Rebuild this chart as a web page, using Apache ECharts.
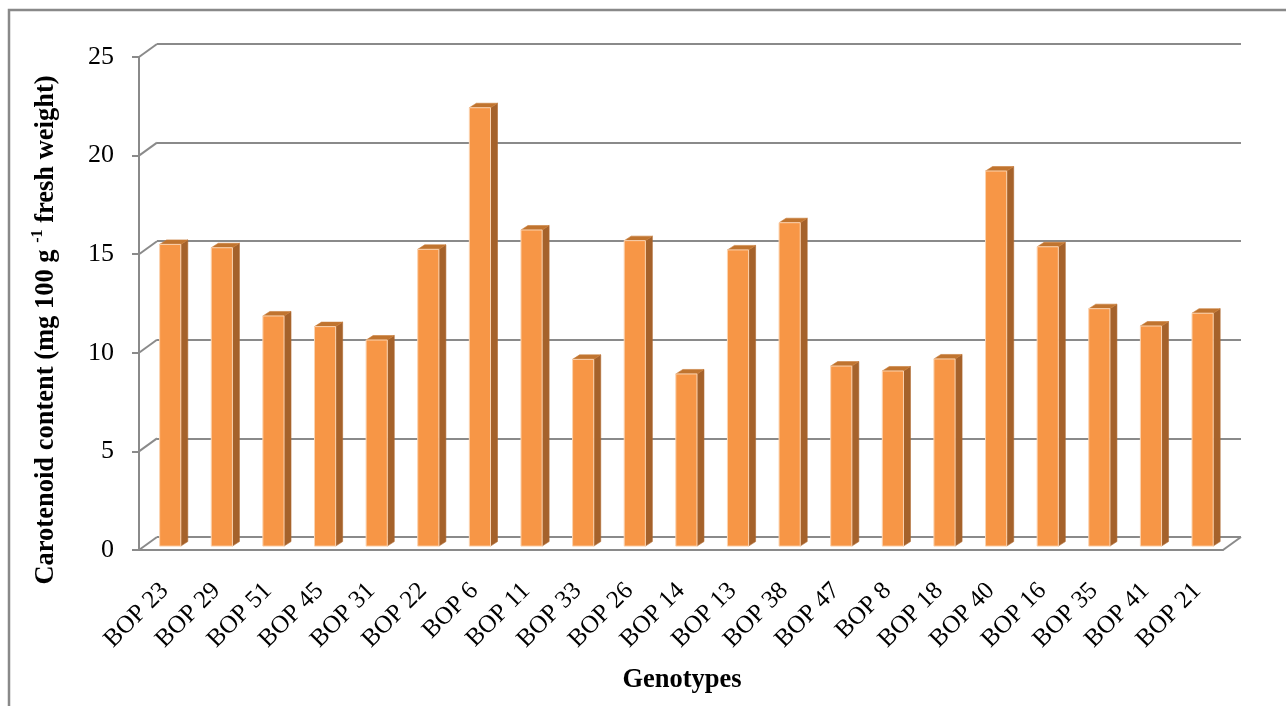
<!DOCTYPE html>
<html>
<head>
<meta charset="utf-8">
<title>Carotenoid content by genotype</title>
<script src="https://cdn.jsdelivr.net/npm/echarts@6/dist/echarts.min.js"></script>
<style>
  html, body { margin: 0; padding: 0; background: #ffffff; }
  #chart { width: 1286px; height: 706px; }
</style>
</head>
<body>
<div id="chart"></div>
<script>
// Genotypes along the x axis
const categories = ['BOP 23', 'BOP 29', 'BOP 51', 'BOP 45', 'BOP 31', 'BOP 22', 'BOP 6',
  'BOP 11', 'BOP 33', 'BOP 26', 'BOP 14', 'BOP 13', 'BOP 38', 'BOP 47', 'BOP 8',
  'BOP 18', 'BOP 40', 'BOP 16', 'BOP 35', 'BOP 41', 'BOP 21'];

// Carotenoid content, mg per 100 g fresh weight
const carotenoid = [15.30, 15.13, 11.67, 11.13, 10.45, 15.05, 22.23,
  16.03, 9.47, 15.49, 8.73, 15.02, 16.40, 9.13, 8.88,
  9.49, 19.02, 15.18, 12.04, 11.16, 11.81];

// Value axis ticks
const yTicks = [0, 5, 10, 15, 20, 25];

const FONT = "'Liberation Serif', 'Times New Roman', serif";
const GRID_COLOR = '#8a8a8a';
// pixel offset from the front plane of the box to its back wall
const WALL = [18, -13];
// bars stand part-way into the box
const BAR_DEPTH_POS = 0.3;
// bar thickness (side / top face) in pixels
const BAR_SIDE = [7, -4.5];

const chart = echarts.init(document.getElementById('chart'), null, { renderer: 'canvas' });

function renderWallEdges(params, api) {
  const cs = params.coordSys;
  const v = api.value(1);
  const y = api.coord([0, v])[1];
  const lineStyle = { stroke: GRID_COLOR, lineWidth: 2 };
  const children = [{
    type: 'line',
    shape: { x1: cs.x, y1: y, x2: cs.x + WALL[0], y2: y + WALL[1] },
    style: lineStyle
  }];
  if (v === 0) {
    const xr = cs.x + cs.width;
    children.push({
      type: 'line',
      shape: { x1: xr, y1: y, x2: xr + WALL[0], y2: y + WALL[1] },
      style: lineStyle
    });
  }
  return { type: 'group', children: children };
}

function renderBar(params, api) {
  const i = api.value(0);
  const v = api.value(1);
  const base = api.coord([i, 0]);
  const top = api.coord([i, v]);
  const bw = api.size([1, 0])[0] * 0.41;
  const dx = WALL[0] * BAR_DEPTH_POS;
  const dy = WALL[1] * BAR_DEPTH_POS;
  const x0 = base[0] + dx - bw / 2;
  const x1 = x0 + bw;
  const yb = base[1] + dy;
  const yt = top[1] + dy;
  const sx = BAR_SIDE[0], sy = BAR_SIDE[1];
  return {
    type: 'group',
    children: [
      {
        type: 'polygon',
        shape: { points: [[x1, yt], [x1 + sx, yt + sy], [x1 + sx, yb + sy], [x1, yb]] },
        style: { fill: '#a5622b', stroke: '#b06a30', lineWidth: 0.6 }
      },
      {
        type: 'polygon',
        shape: { points: [[x0, yt], [x0 + sx, yt + sy], [x1 + sx, yt + sy], [x1, yt]] },
        style: { fill: '#c0742f', stroke: '#c97d3a', lineWidth: 0.6 }
      },
      {
        type: 'rect',
        shape: { x: x0, y: yt, width: bw, height: yb - yt },
        style: { fill: '#f79646', stroke: '#fbd3b0', lineWidth: 1 }
      }
    ]
  };
}

const option = {
  backgroundColor: '#ffffff',
  animation: false,
  grid: [
    // back wall
    { left: 139 + WALL[0], top: 57 + WALL[1], width: 1084, height: 493 },
    // front plane
    { left: 139, top: 57, width: 1084, height: 493 }
  ],
  xAxis: [
    { gridIndex: 0, type: 'category', data: categories, show: false },
    {
      gridIndex: 1, type: 'category', data: categories,
      axisLine: { lineStyle: { color: GRID_COLOR, width: 2 } },
      axisTick: { show: false },
      axisLabel: { rotate: 45, interval: 0, margin: 37, fontSize: 25, fontFamily: FONT, color: '#000' }
    }
  ],
  yAxis: [
    {
      gridIndex: 0, type: 'value', min: 0, max: 25, interval: 5,
      axisLabel: { show: false }, axisLine: { show: false }, axisTick: { show: false },
      splitLine: { lineStyle: { color: GRID_COLOR, width: 2.2 } }
    },
    {
      gridIndex: 1, type: 'value', min: 0, max: 25, interval: 5,
      axisLine: { show: true, lineStyle: { color: GRID_COLOR, width: 2 } },
      axisTick: { show: true, length: 7, lineStyle: { color: GRID_COLOR, width: 2 } },
      splitLine: { show: false },
      axisLabel: { margin: 25, fontSize: 26, fontFamily: FONT, color: '#000' }
    }
  ],
  series: [
    {
      type: 'custom', xAxisIndex: 1, yAxisIndex: 1, z: 3,
      renderItem: renderWallEdges,
      data: yTicks.map(v => [0, v]),
      silent: true
    },
    {
      type: 'custom', xAxisIndex: 1, yAxisIndex: 1, z: 5,
      renderItem: renderBar,
      data: carotenoid.map((v, i) => [i, v])
    }
  ],
  graphic: [
    {
      type: 'rect', z: 0,
      shape: { x: 9, y: 10, width: 1400, height: 900 },
      style: { fill: 'none', stroke: '#898989', lineWidth: 2.5 }
    },
    {
      type: 'text', x: 45, y: 330, rotation: Math.PI / 2,
      style: {
        text: '{b|Carotenoid content (mg 100 g }{s|-1}{b| fresh weight)}',
        align: 'center', verticalAlign: 'middle',
        rich: {
          b: { fontSize: 26.5, fontWeight: 'bold', fontFamily: FONT, fill: '#000', lineHeight: 30, verticalAlign: 'bottom' },
          s: { fontSize: 16, fontWeight: 'bold', fontFamily: FONT, fill: '#000', lineHeight: 30, verticalAlign: 'top', padding: [0, 0, 10, 0] }
        }
      }
    },
    {
      type: 'text', x: 682, y: 680,
      style: {
        text: 'Genotypes', align: 'center', verticalAlign: 'middle',
        fontSize: 26.5, fontWeight: 'bold', fontFamily: FONT, fill: '#000'
      }
    }
  ]
};

chart.setOption(option);
</script>
</body>
</html>
